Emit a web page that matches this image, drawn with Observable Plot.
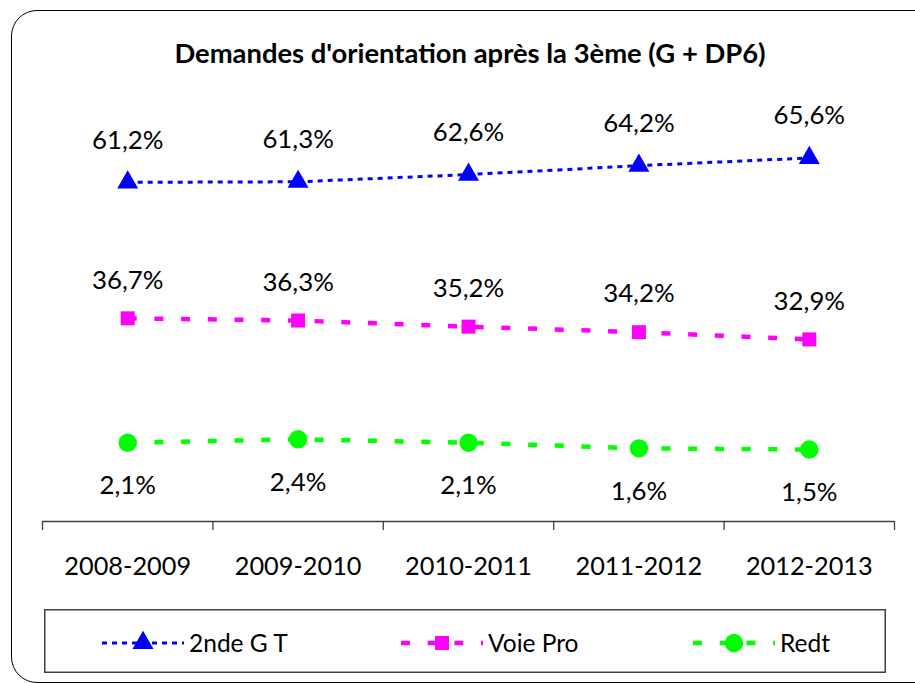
<!DOCTYPE html>
<html><head><meta charset="utf-8">
<script src="https://cdn.jsdelivr.net/npm/d3@7"></script>
<script src="https://cdn.jsdelivr.net/npm/@observablehq/plot@0.6"></script>
<style>
body{margin:0;background:#fff;}
#wrap{position:relative;width:915px;height:683px;overflow:hidden;font-family:Lato,sans-serif;}
#border{position:absolute;left:11px;top:10px;width:960px;height:673px;border:1.5px solid #000;border-radius:26px;box-sizing:border-box;}
#title{position:absolute;left:0;top:38px;width:940px;text-align:center;font-weight:bold;font-size:27.4px;line-height:30px;color:#000;}
#chart{position:absolute;left:0;top:0;}
#legend{position:absolute;left:44px;top:609px;}
</style></head>
<body><div id="wrap"><div id="border"></div><div id="chart"></div><div id="title">Demandes d'orientation après la 3ème (G + DP6)</div><div id="legend"></div></div>
<script>
const categories = ["2008-2009","2009-2010","2010-2011","2011-2012","2012-2013"];
const seriesNames = ["2nde G T","Voie Pro","Redt"];
const gt = [61.2, 61.3, 62.6, 64.2, 65.6];
const voiePro = [36.7, 36.3, 35.2, 34.2, 32.9];
const redt = [2.1, 2.4, 2.1, 1.6, 1.5];
const colors = ["#0000FF","#FF00FF","#00FF00"];
const symbols = ["triangle","square","circle"];
const dashes = ["5,5","9,17.7","9,17.7"];
const widths = [3,4.5,4.5];
const radii = [7.8,7.9,9.2];
const labelDy = [-42,-38,43];

// broken (piecewise) value axis as in the original chart
const piece = d3.scaleLinear().domain([0,3,30,70]).range([0,34,111,333]);
const yDomain = [-55,466];

const seriesValues = [gt, voiePro, redt];
const rows = seriesValues.flatMap((vals,s)=>vals.map((v,i)=>({series:seriesNames[s], s, i, cat:categories[i], x:i+0.5, v})));
const fmt = v => v.toFixed(1).replace(".", ",") + "%";

const marks = [];
seriesNames.forEach((name,s)=>{
  const d = rows.filter(r=>r.s===s);
  marks.push(Plot.line(d,{x:"x",y:"v",stroke:colors[s],strokeWidth:widths[s],strokeDasharray:dashes[s],strokeLinecap:"butt"}));
  marks.push(Plot.dot(d,{x:"x",y:"v",symbol:symbols[s],r:radii[s],fill:colors[s],stroke:"none"}));
  marks.push(Plot.text(d,{x:"x",y:"v",text:r=>fmt(r.v),dy:labelDy[s],fontSize:25.8,fill:"#000",lineAnchor:"middle"}));
});
marks.push(Plot.ruleY([piece.invert(yDomain[0])],{x1:0,x2:categories.length,stroke:"#404040",strokeWidth:1.3}));
marks.push(Plot.axisX({ticks:d3.range(0,categories.length+1),tickFormat:()=>"",tickSize:9,stroke:"#404040",strokeWidth:1.3,label:null}));
marks.push(Plot.text(categories,{x:(d,i)=>i+0.5,frameAnchor:"bottom",dy:45,text:d=>d,fontSize:25.3,fill:"#000",lineAnchor:"middle"}));

const chart = Plot.plot({
  width:915,height:600,marginLeft:42,marginRight:21,marginTop:0,marginBottom:79,
  style:{fontFamily:"Lato, sans-serif",background:"transparent",overflow:"visible"},
  x:{domain:[0,categories.length],label:null},
  y:{transform:piece,domain:yDomain,axis:null},
  marks
});
document.getElementById("chart").appendChild(chart);

// legend
const lw=842, lh=64;
const svg=d3.select("#legend").append("svg").attr("width",lw).attr("height",lh).style("overflow","visible");
svg.append("rect").attr("x",0.75).attr("y",0.75).attr("width",lw-1.5).attr("height",lh-1.5).attr("fill","none").attr("stroke","#404040").attr("stroke-width",1.5);
const starts=[58,357,649];
seriesNames.forEach((name,s)=>{
  const g=svg.append("g").attr("transform",`translate(${starts[s]},${lh/2+2})`);
  g.append("line").attr("x1",0).attr("x2",82).attr("y1",0).attr("y2",0).attr("stroke",colors[s]).attr("stroke-width",widths[s]).attr("stroke-dasharray",dashes[s]);
  const sym = {triangle:d3.symbolTriangle,square:d3.symbolSquare,circle:d3.symbolCircle}[symbols[s]];
  g.append("path").attr("transform","translate(41,0)").attr("d",d3.symbol(sym,radii[s]*radii[s]*Math.PI)()).attr("fill",colors[s]);
  g.append("text").attr("x",87).attr("y",0).attr("dy","0.35em").attr("font-size",24.5).attr("font-family","Lato, sans-serif").text(name);
});
</script></body></html>
